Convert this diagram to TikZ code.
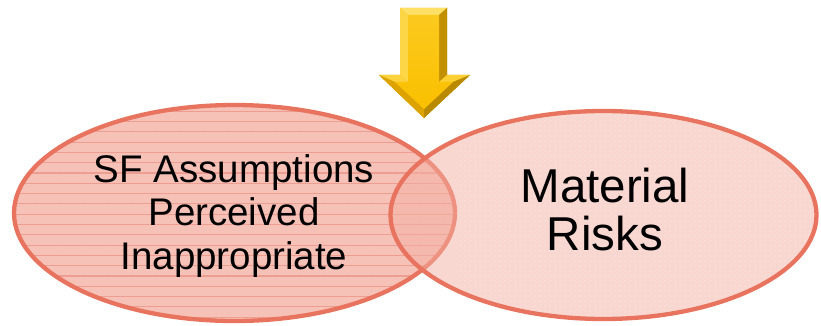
\documentclass[tikz,border=0pt]{standalone}
\usepackage{fontspec}
\setmainfont{Liberation Sans}
\usetikzlibrary{patterns.meta}
\definecolor{rim}{HTML}{E8735E}
\definecolor{leftfill}{HTML}{F6C1B7}
\definecolor{leftline}{HTML}{EE9E90}
\definecolor{rightfill}{HTML}{F3B0A4}
\definecolor{golddark}{HTML}{B98A00}
\definecolor{goldmid}{HTML}{E3A800}
\definecolor{goldface}{HTML}{FAC000}
\definecolor{goldlight}{HTML}{FFE066}
\tikzset{
  setring/.style={draw=rim, line width=4.3pt},
  bigtext/.style={align=center, inner sep=0pt, text=black},
}
\begin{document}
\begin{tikzpicture}[x=1pt,y=-1pt]
\useasboundingbox (0,0) rectangle (821,326);

% left set: lined pink fill
\path[fill=leftfill] (234.5,213) ellipse [x radius=220.5, y radius=108];
\begin{scope}
  \clip (234.5,213) ellipse [x radius=220.5, y radius=108];
  \foreach \k in {-8,...,14} {
    \draw[leftline, line width=1.1pt] (0,{183.3+10.3*\k}) -- (460,{183.3+10.3*\k});
  }
  \path[pattern={Dots[distance=6pt, radius=0.45pt]}, pattern color=leftline!70]
    (0,100) rectangle (460,326);
\end{scope}
\draw[setring] (234.5,213) ellipse [x radius=220.5, y radius=108];

% right set: translucent dotted pink fill laid over the left one
\path[fill=rightfill, fill opacity=0.5] (603.5,215) ellipse [x radius=213, y radius=104];
\begin{scope}
  \clip (603.5,215) ellipse [x radius=213, y radius=104];
  \path[pattern={Dots[distance=5pt, radius=0.5pt]}, pattern color=white!80!rightfill]
    (460,100) rectangle (821,326);
\end{scope}
\draw[setring] (603.5,215) ellipse [x radius=213, y radius=104];

% labels
\node[bigtext, font=\fontsize{38.5}{43.5}\selectfont] (ltext) at (234,216)
  {SF Assumptions\\Perceived\\Inappropriate};
\node[bigtext, font=\fontsize{47.5}{48}\selectfont] (rtext) at (605,210)
  {Material\\Risks};

% bevelled gold arrow pointing down into the overlap
\coordinate (a1) at (400,8);   \coordinate (a2) at (447,8);
\coordinate (a3) at (447,75);  \coordinate (a4) at (470,75);
\coordinate (a5) at (424,118); \coordinate (a6) at (379,75);
\coordinate (a7) at (400,75);
\coordinate (b1) at (408,15);  \coordinate (b2) at (439,15);
\coordinate (b3) at (439,82);  \coordinate (b4) at (453,82);
\coordinate (b5) at (424,109); \coordinate (b6) at (395,82);
\coordinate (b7) at (408,82);
\fill[goldmid] (a1) -- (a2) -- (a3) -- (a4) -- (a5) -- (a6) -- (a7) -- cycle;
\fill[goldlight] (a1) -- (a2) -- (b2) -- (b1) -- cycle;
\fill[goldlight!70!goldface] (a1) -- (b1) -- (b7) -- (a7) -- cycle;
\fill[golddark!80!goldmid] (a2) -- (a3) -- (b3) -- (b2) -- cycle;
\fill[goldlight!60!goldface] (a7) -- (b7) -- (b6) -- (a6) -- cycle;
\fill[goldlight!50!goldface] (a3) -- (a4) -- (b4) -- (b3) -- cycle;
\fill[goldmid!85!golddark] (a6) -- (b6) -- (b5) -- (a5) -- cycle;
\fill[golddark] (a4) -- (a5) -- (b5) -- (b4) -- cycle;
\shade[top color=goldface!70!goldlight, bottom color=goldface]
  (b1) -- (b2) -- (b3) -- (b4) -- (b5) -- (b6) -- (b7) -- cycle;
\end{tikzpicture}
\end{document}
